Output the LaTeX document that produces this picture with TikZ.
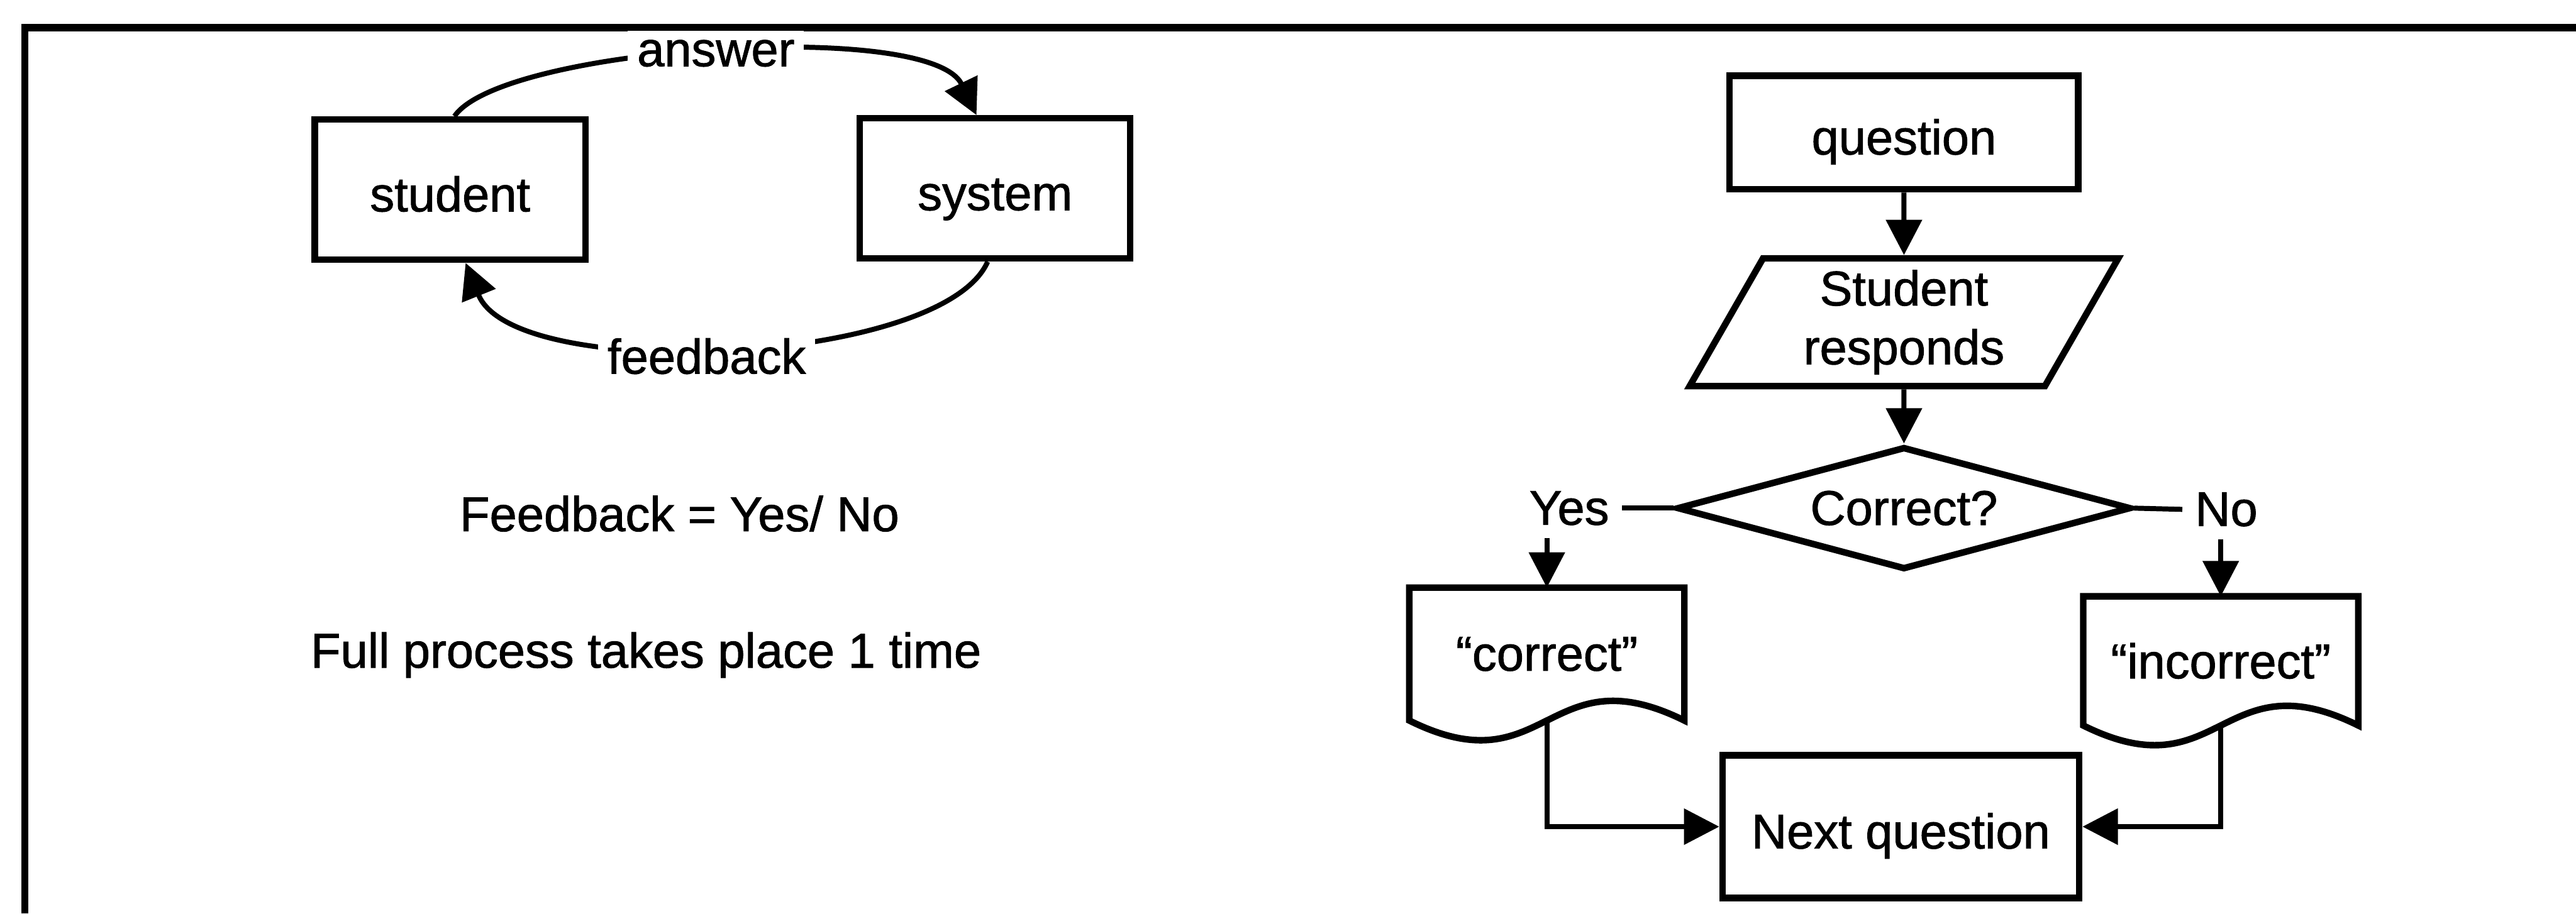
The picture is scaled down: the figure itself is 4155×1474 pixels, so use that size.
\documentclass[tikz,border=0pt]{standalone}
\usepackage{fontspec}
\setmainfont{Liberation Sans}[FakeBold=1.2]
\usetikzlibrary{arrows.meta,shapes.geometric}

\begin{document}
\begin{tikzpicture}[x=0.01cm,y=-0.01cm,
  every node/.style={font=\fontsize{22.4}{27}\selectfont},
  box/.style={draw, line width=3pt, rectangle, inner sep=0pt,
    text height=20pt, text depth=0pt},
  outline/.style={line width=3pt},
  link/.style={line width=2.3pt},
  arr/.style={link, -{Triangle[length=5.7mm,width=5.7mm]}},
  lbl/.style={fill=white, inner sep=0.15cm},
  tag/.style={inner sep=0.2cm},
  doc/.style={inner sep=0pt, minimum width=4.42cm},
]
\useasboundingbox (0,0) rectangle (4155,1474);

% open frame: top and left edges only
\draw[line width=3.4pt] (40,1474) -- (40,45) -- (4155,45);

% ---- answer / feedback loop ----
\node[box, minimum width=4.36cm, minimum height=2.26cm] (student) at (726,306) {student};
\node[box, minimum width=4.36cm, minimum height=2.26cm] (system) at (1605,304) {system};

\draw[arr] ([xshift=0.07cm]student.north) .. controls (810,75) and (1500,30) ..
  ([xshift=-0.3cm]system.north) node[lbl, pos=.5] {answer};
\draw[arr] ([xshift=-0.12cm]system.south) .. controls (1520,590) and (830,620) ..
  ([xshift=0.25cm]student.south) node[lbl, pos=.53, yshift=-0.15cm] {feedback};

\node (fbnote) at (1096,829) {Feedback = Yes/ No};
\node (runnote) at (1042,1057) {Full process takes place 1 time};

% ---- flowchart ----
\node[box, minimum width=5.62cm, minimum height=1.83cm] (question) at (3071,214) {question};

\node[draw, outline, trapezium, trapezium left angle=63.4, trapezium right angle=116.6,
  trapezium stretches=true, minimum width=6.92cm, minimum height=2.06cm,
  inner sep=0pt, align=center] (resp) at (3071,520) {Student\\responds};

\node[draw, outline, diamond, shape aspect=3.7, minimum width=7.32cm,
  minimum height=1.98cm, inner sep=0pt] (dec) at (3071,820) {Correct?};

\node[tag] (yes) at (2531,820) {Yes};
\node[tag] (no) at (3591,822) {No};

\node[doc, minimum height=2.13cm] (correct) at (2495,1055.5) {“correct”};
\node[doc, minimum height=2.07cm] (incorrect) at (3582,1066.5) {“incorrect”};

% document outlines with a wavy lower edge
\draw[outline] (correct.south west) -- (correct.north west) -- (correct.north east)
  -- (correct.south east) .. controls ([yshift=1.1cm]correct.south) and ([yshift=-1.1cm]correct.south)
  .. (correct.south west) -- cycle;
\draw[outline] (incorrect.south west) -- (incorrect.north west) -- (incorrect.north east)
  -- (incorrect.south east) .. controls ([yshift=1.1cm]incorrect.south) and ([yshift=-1.1cm]incorrect.south)
  .. (incorrect.south west) -- cycle;

\node[box, minimum width=5.75cm, minimum height=2.3cm] (next) at (3066,1334) {Next question};

% connectors
\draw[arr] (question.south) -- (resp.north);
\draw[arr] (resp.south) -- (dec.north);
\draw[link] (dec.west) -- (yes.east);
\draw[link] (dec.east) -- (no.west);
\draw[arr] (yes.south -| correct.north) -- (correct.north);
\draw[arr] (no.south -| incorrect.north) -- (incorrect.north);
\draw[arr] (correct.south) |- (next.west);
\draw[arr] (incorrect.south) |- (next.east);
\end{tikzpicture}
\end{document}
